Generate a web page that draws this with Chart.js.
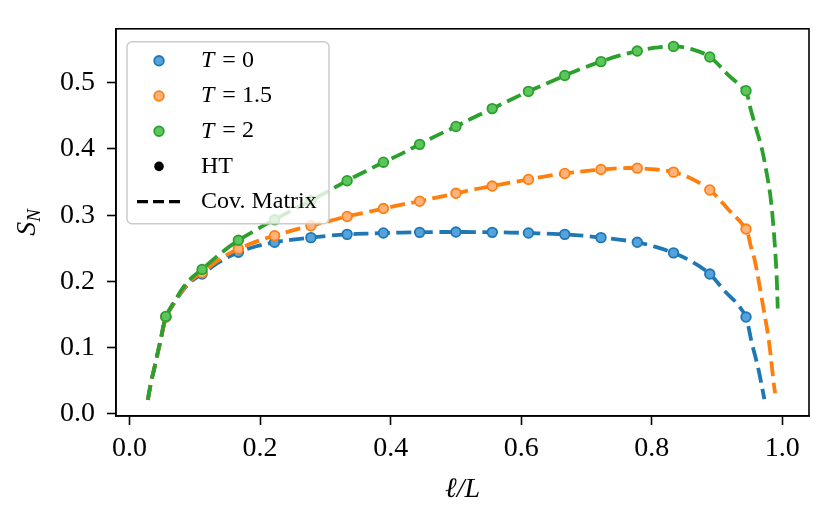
<!DOCTYPE html>
<html>
<head>
<meta charset="utf-8">
<title>S_N vs l/L</title>
<script src="https://cdn.jsdelivr.net/npm/chart.js@4.4.1/dist/chart.umd.min.js"></script>
<style>
  html, body { margin: 0; padding: 0; background: #fff; }
</style>
</head>
<body>
<canvas id="chart" width="830" height="526"></canvas>
<script>
/* ── Data ──────────────────────────────────────────────────────────────── */

var xTicks = [0.0, 0.2, 0.4, 0.6, 0.8, 1.0];
var yTicks = [0.0, 0.1, 0.2, 0.3, 0.4, 0.5];

var temps  = ['0', '1.5', '2'];

// HT points, l/L = k/18
var htX   = [0.0556, 0.1111, 0.1667, 0.2222, 0.2778, 0.3333, 0.3889, 0.4444, 0.5,
             0.5556, 0.6111, 0.6667, 0.7222, 0.7778, 0.8333, 0.8889, 0.9444];
var htT0  = [0.146, 0.211, 0.244, 0.259, 0.266, 0.271, 0.273, 0.274, 0.2745,
             0.274, 0.273, 0.271, 0.266, 0.259, 0.243, 0.211, 0.146];
var htT15 = [0.146, 0.213, 0.249, 0.269, 0.284, 0.298, 0.310, 0.321, 0.333,
             0.344, 0.354, 0.363, 0.369, 0.371, 0.365, 0.338, 0.279];
var htT2  = [0.147, 0.218, 0.262, 0.293, 0.322, 0.352, 0.380, 0.407, 0.434,
             0.461, 0.487, 0.511, 0.532, 0.548, 0.555, 0.539, 0.488];

// Cov. Matrix curves, shared part
var covX   = [0.028, 0.033, 0.038, 0.047, 0.056, 0.069, 0.083, 0.097, 0.111, 0.139,
              0.167, 0.194, 0.222, 0.25, 0.278, 0.306, 0.333, 0.361, 0.389, 0.417,
              0.444, 0.472, 0.5, 0.528, 0.556, 0.583, 0.611, 0.639, 0.667, 0.694,
              0.722, 0.75, 0.778, 0.806, 0.833, 0.861, 0.889];
var covT0  = [0.021, 0.048, 0.069, 0.108, 0.146, 0.168, 0.188, 0.202, 0.211, 0.230,
              0.244, 0.253, 0.259, 0.263, 0.266, 0.269, 0.271, 0.272, 0.273, 0.2737,
              0.274, 0.2745, 0.2745, 0.2745, 0.274, 0.2737, 0.273, 0.272, 0.271, 0.269,
              0.266, 0.263, 0.259, 0.252, 0.243, 0.230, 0.211];
var covT15 = [0.021, 0.048, 0.069, 0.108, 0.146, 0.169, 0.189, 0.204, 0.213, 0.234,
              0.249, 0.260, 0.269, 0.277, 0.284, 0.291, 0.298, 0.304, 0.310, 0.316,
              0.321, 0.327, 0.333, 0.339, 0.344, 0.349, 0.354, 0.359, 0.363, 0.366,
              0.369, 0.371, 0.371, 0.369, 0.365, 0.355, 0.338];
var covT2  = [0.021, 0.048, 0.069, 0.110, 0.147, 0.170, 0.192, 0.207, 0.218, 0.242,
              0.262, 0.278, 0.293, 0.308, 0.322, 0.337, 0.352, 0.366, 0.380, 0.393,
              0.407, 0.421, 0.434, 0.448, 0.461, 0.474, 0.487, 0.499, 0.511, 0.522,
              0.532, 0.541, 0.548, 0.553, 0.555, 0.551, 0.539];

// Cov. Matrix tails (each curve ends at a different l/L)
var tailT0X  = [0.912, 0.931, 0.944, 0.953, 0.963, 0.9725];
var tailT0Y  = [0.185, 0.166, 0.146, 0.108, 0.069, 0.022];
var tailT15X = [0.917, 0.944, 0.952, 0.958, 0.968, 0.979, 0.987, 0.989];
var tailT15Y = [0.309, 0.279, 0.252, 0.231, 0.177, 0.113, 0.045, 0.031];
var tailT2X  = [0.917, 0.944, 0.951, 0.958, 0.968, 0.976, 0.982, 0.987, 0.991, 0.993];
var tailT2Y  = [0.512, 0.486, 0.462, 0.437, 0.403, 0.364, 0.327, 0.275, 0.215, 0.159];

/* ── Style ─────────────────────────────────────────────────────────────── */

var FONT   = '"Liberation Serif", "Times New Roman", serif';
var EDGE   = ['#1f77b4', '#ff7f0e', '#2ca02c'];
var FACE   = ['#55a3dc', '#ffb27c', '#5cc65c'];
var DASH   = [15, 6.5];

function pts(xs, ys) {
  return xs.map(function (x, i) { return { x: x, y: ys[i] }; });
}

function curve(headY, tailX, tailY) {
  return pts(covX.concat(tailX), headY.concat(tailY));
}

function lineSet(data, i) {
  return {
    data: data, showLine: true, pointRadius: 0, borderColor: EDGE[i],
    borderWidth: 3.8, borderDash: DASH, tension: 0.35,
    order: 5 - 2 * i, clip: false
  };
}

function pointSet(data, i) {
  return {
    data: data, showLine: false, pointRadius: 4.8, pointBorderWidth: 1.8,
    backgroundColor: FACE[i], borderColor: EDGE[i], order: 4 - 2 * i
  };
}

/* ── Plugins: frame, axis titles, legend ──────────────────────────────── */

var decor = {
  id: 'decor',
  afterDraw: function (chart) {
    var ctx = chart.ctx, a = chart.chartArea;
    ctx.save();

    // frame (top and right spines)
    ctx.strokeStyle = '#000';
    ctx.lineWidth = 1.6;
    ctx.strokeRect(a.left, a.top, a.right - a.left, a.bottom - a.top);

    // x title: ℓ/L
    ctx.fillStyle = '#000';
    ctx.textBaseline = 'middle';
    ctx.textAlign = 'center';
    ctx.font = 'italic 28px ' + FONT;
    ctx.fillText('\u2113/L', (a.left + a.right) / 2, 490);

    // y title: S_N
    ctx.save();
    ctx.translate(30, (a.top + a.bottom) / 2);
    ctx.rotate(-Math.PI / 2);
    ctx.textAlign = 'left';
    ctx.font = 'italic 28px ' + FONT;
    var wS = ctx.measureText('S').width;
    ctx.font = 'italic 19px ' + FONT;
    var wN = ctx.measureText('N').width;
    var x0 = -(wS + wN) / 2;
    ctx.font = 'italic 28px ' + FONT;
    ctx.fillText('S', x0, -2);
    ctx.font = 'italic 19px ' + FONT;
    ctx.fillText('N', x0 + wS, 5);
    ctx.restore();

    // legend
    var bx = a.left + 11, by = a.top + 13, bw = 202, bh = 182;
    ctx.beginPath();
    ctx.roundRect(bx, by, bw, bh, 5);
    ctx.fillStyle = 'rgba(255,255,255,0.8)';
    ctx.fill();
    ctx.strokeStyle = '#cccccc';
    ctx.lineWidth = 1.5;
    ctx.stroke();

    var mx = bx + 32, tx = bx + 74, row0 = by + 19, step = 35.2;
    ctx.textAlign = 'left';
    ctx.textBaseline = 'middle';
    temps.forEach(function (t, i) {
      var ry = row0 + i * step;
      ctx.beginPath();
      ctx.arc(mx, ry, 4.8, 0, Math.PI * 2);
      ctx.fillStyle = FACE[i];
      ctx.fill();
      ctx.strokeStyle = EDGE[i];
      ctx.lineWidth = 1.8;
      ctx.stroke();
      ctx.fillStyle = '#000';
      ctx.font = 'italic 24px ' + FONT;
      ctx.fillText('T', tx, ry);
      var w = ctx.measureText('T').width;
      ctx.font = '24px ' + FONT;
      ctx.fillText(' = ' + t, tx + w + 2, ry);
    });

    var hy = row0 + 3 * step;
    ctx.beginPath();
    ctx.arc(mx, hy, 4.8, 0, Math.PI * 2);
    ctx.fillStyle = '#000';
    ctx.fill();
    ctx.font = '24px ' + FONT;
    ctx.fillText('HT', tx, hy);

    var cy = row0 + 4 * step;
    ctx.beginPath();
    ctx.setLineDash([11, 5]);
    ctx.moveTo(bx + 10, cy);
    ctx.lineTo(bx + 54, cy);
    ctx.strokeStyle = '#000';
    ctx.lineWidth = 3.2;
    ctx.stroke();
    ctx.setLineDash([]);
    ctx.fillText('Cov. Matrix', tx, cy);

    ctx.restore();
  }
};

/* ── Chart ─────────────────────────────────────────────────────────────── */

var series = [
  { ht: htT0,  cov: covT0,  tx: tailT0X,  ty: tailT0Y  },
  { ht: htT15, cov: covT15, tx: tailT15X, ty: tailT15Y },
  { ht: htT2,  cov: covT2,  tx: tailT2X,  ty: tailT2Y  }
];

var datasets = [];
series.forEach(function (s, i) {
  datasets.push(lineSet(curve(s.cov, s.tx, s.ty), i));
  datasets.push(pointSet(pts(htX, s.ht), i));
});

function fixTicks(vals) {
  return function (axis) {
    axis.ticks = vals.map(function (v) { return { value: v }; });
  };
}

new Chart(document.getElementById('chart'), {
  type: 'scatter',
  data: { datasets: datasets },
  options: {
    responsive: false,
    animation: false,
    layout: { padding: { top: 19, right: 21, left: 0, bottom: 0 } },
    plugins: { legend: { display: false }, tooltip: { enabled: false } },
    scales: {
      x: {
        type: 'linear', min: -0.0208, max: 1.0409,
        afterBuildTicks: fixTicks(xTicks),
        afterFit: function (axis) { axis.height = 110; },
        grid: { drawOnChartArea: false, drawTicks: true, tickLength: 9, tickWidth: 1.6, tickColor: '#000' },
        border: { display: true, color: '#000', width: 1.6 },
        ticks: {
          color: '#000', padding: 7, maxRotation: 0,
          font: { family: FONT, size: 28 },
          callback: function (v) { return Number(v).toFixed(1); }
        }
      },
      y: {
        type: 'linear', min: -0.0035, max: 0.5816,
        afterBuildTicks: fixTicks(yTicks),
        afterFit: function (axis) { axis.width = 116; },
        grid: { drawOnChartArea: false, drawTicks: true, tickLength: 9, tickWidth: 1.6, tickColor: '#000' },
        border: { display: true, color: '#000', width: 1.6 },
        ticks: {
          color: '#000', padding: 12,
          font: { family: FONT, size: 28 },
          callback: function (v) { return Number(v).toFixed(1); }
        }
      }
    }
  },
  plugins: [decor]
});
</script>
</body>
</html>
